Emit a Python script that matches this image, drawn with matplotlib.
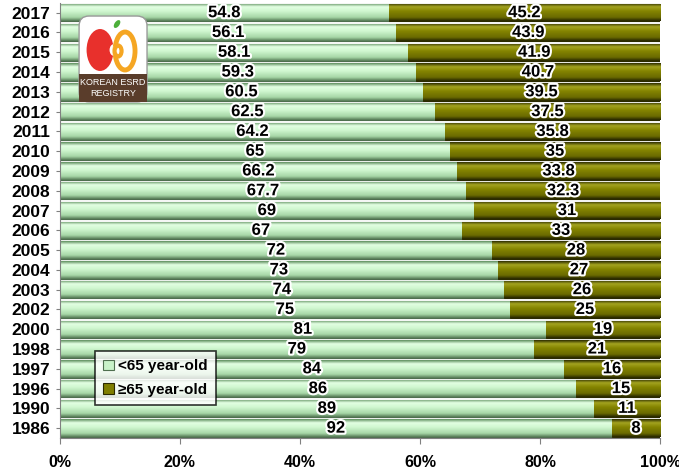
import numpy as np
import matplotlib.pyplot as plt
import matplotlib.patheffects as pe
from matplotlib.colors import LinearSegmentedColormap
from matplotlib.patches import FancyBboxPatch, Ellipse, Rectangle

plt.rcParams['font.family'] = ['Liberation Sans', 'DejaVu Sans']

years = ['2017', '2016', '2015', '2014', '2013', '2012', '2011', '2010', '2009', '2008', '2007',
         '2006', '2005', '2004', '2003', '2002', '2000', '1998', '1997', '1996', '1990', '1986']
under65 = [54.8, 56.1, 58.1, 59.3, 60.5, 62.5, 64.2, 65, 66.2, 67.7, 69,
           67, 72, 73, 74, 75, 81, 79, 84, 86, 89, 92]
over65 = [45.2, 43.9, 41.9, 40.7, 39.5, 37.5, 35.8, 35, 33.8, 32.3, 31,
          33, 28, 27, 26, 25, 19, 21, 16, 15, 11, 8]
series_names = ['<65 year-old', '\u226565 year-old']

green_cm = LinearSegmentedColormap.from_list(
    'g', [(0, '#5f8f5f'), (0.2, '#e2ffe2'), (0.45, '#d0f7d0'), (0.8, '#a6d6a6'), (1, '#557a55')])
olive_cm = LinearSegmentedColormap.from_list(
    'o', [(0, '#2e2e00'), (0.2, '#a3a320'), (0.45, '#848400'), (0.8, '#6a6a00'), (1, '#262600')])
grad = np.linspace(0, 1, 64).reshape(-1, 1)

fig = plt.figure(figsize=(6.79, 4.70), dpi=100)
ax = fig.add_axes([0.088, 0.068, 0.884, 0.926])

y = np.arange(len(years))
h = 0.88
b1 = ax.barh(y, under65, height=h, color='#c8f2c8', edgecolor='#4f6f4f', linewidth=0.8, zorder=2)
b2 = ax.barh(y, over65, left=under65, height=h, color='#7f7f00', edgecolor='#2a2a00', linewidth=0.8, zorder=2)

# cylinder shading clipped to each bar
for bars, cm in ((b1, green_cm), (b2, olive_cm)):
    for p in bars:
        x0, y0 = p.get_x(), p.get_y()
        x1 = min(x0 + p.get_width(), 100)
        im = ax.imshow(grad, cmap=cm, aspect='auto', zorder=2.5,
                       extent=[x0, x1, y0 + p.get_height(), y0])
        im.set_clip_path(p)

outline = [pe.withStroke(linewidth=3, foreground='white')]
for i in range(len(years)):
    ax.text(under65[i] / 2, y[i], f'{under65[i]:g}', ha='center', va='center',
            fontsize=12, fontweight='bold', path_effects=outline, zorder=4)
    ax.text(under65[i] + over65[i] / 2, y[i], f'{over65[i]:g}', ha='center', va='center',
            fontsize=12, fontweight='bold', path_effects=outline, zorder=4)

ax.set_xlim(0, 100)
ax.set_ylim(len(years) - 0.5, -0.5)
ax.set_yticks(y)
ax.set_yticklabels(years, fontsize=12.5, fontweight='bold')
ax.set_xticks([0, 20, 40, 60, 80, 100])
ax.set_xticklabels(['0%', '20%', '40%', '60%', '80%', '100%'], fontsize=11.5, fontweight='bold')
ax.tick_params(axis='y', length=3, color='#808080', pad=4)
ax.tick_params(axis='x', length=4, color='#808080', pad=8)
ax.spines['top'].set_visible(False)
ax.spines['right'].set_visible(False)
for s in ('left', 'bottom'):
    ax.spines[s].set_color('#808080')

leg = ax.legend([b1, b2], series_names, loc='lower left', bbox_to_anchor=(0.058, 0.076),
                borderaxespad=0, prop={'size': 11, 'weight': 'bold'}, frameon=True,
                fancybox=False, handlelength=0.7, handleheight=0.7, handletextpad=0.3,
                labelspacing=0.6, borderpad=0.55, edgecolor='black')
leg.get_frame().set_linewidth(1.2)
leg.set_zorder(5)

# registry logo
lax = fig.add_axes([0.115, 0.781, 0.103, 0.187])
lax.set_xlim(0, 70)
lax.set_ylim(0, 88)
lax.axis('off')
lax.add_patch(FancyBboxPatch((1, 1), 68, 86, boxstyle='round,pad=0,rounding_size=10',
                             facecolor='white', edgecolor='#9a9a9a', linewidth=1))
lax.add_patch(Rectangle((1, 1), 68, 28, facecolor='#5a3d2b', edgecolor='none'))
lax.text(35, 20, 'KOREAN ESRD', ha='center', va='center', fontsize=6.5, color='white')
lax.text(35, 9, 'REGISTRY', ha='center', va='center', fontsize=6.5, color='white')
# red bean
lax.add_patch(Ellipse((22, 53), 27, 42, facecolor='#e8302c'))
lax.add_patch(Ellipse((36, 53), 9, 12, facecolor='white'))
# orange bean outline
lax.add_patch(Ellipse((47, 52), 20, 38, facecolor='none', edgecolor='#f5a623', linewidth=3.5))
lax.add_patch(Ellipse((37, 52), 6, 10, facecolor='white', edgecolor='none'))
lax.add_patch(Ellipse((40, 52), 7, 11, facecolor='none', edgecolor='#f5a623', linewidth=3))
lax.add_patch(Ellipse((39, 79), 5, 9, angle=-35, facecolor='#4caf3a'))

fig.savefig('out.png', dpi=100)
